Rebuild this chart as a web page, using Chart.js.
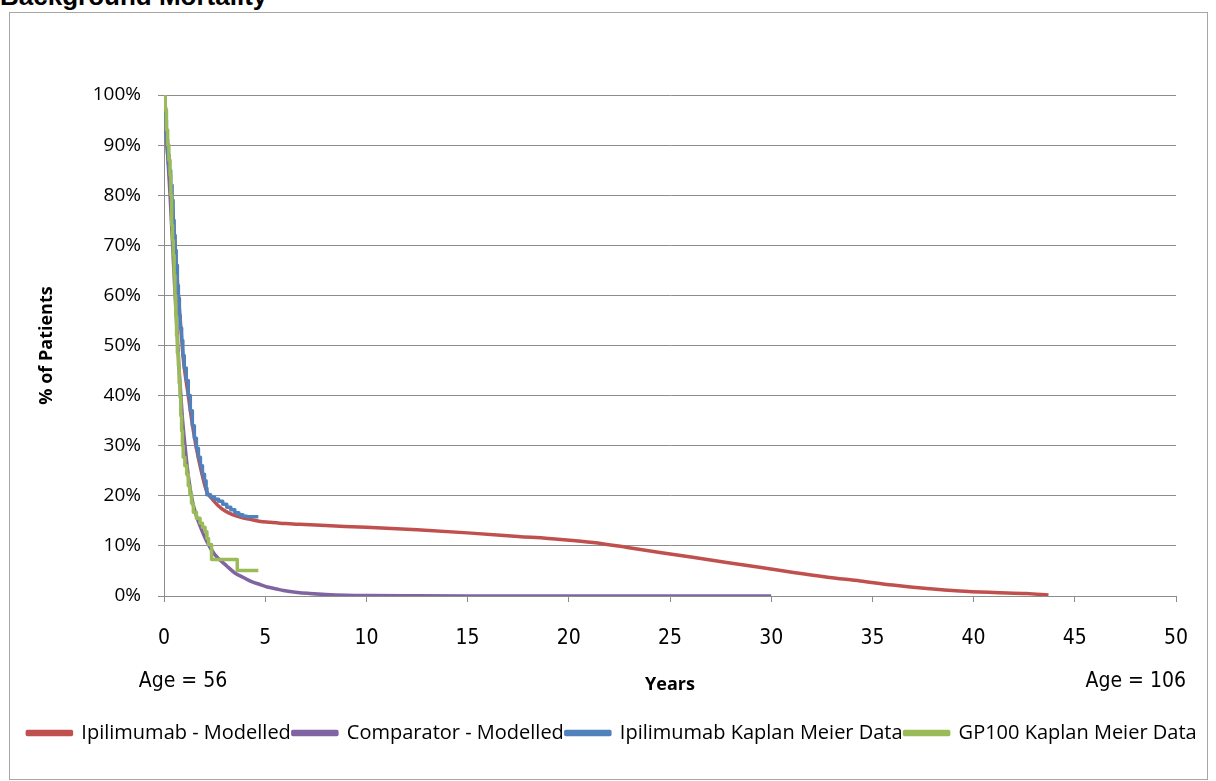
<!DOCTYPE html>
<html><head><meta charset="utf-8">
<script src="https://cdn.jsdelivr.net/npm/chart.js@4.4.1/dist/chart.umd.min.js"></script>
<style>
html,body{margin:0;padding:0;background:#fff;}
#wrap{position:relative;width:1216px;height:781px;overflow:hidden;background:#fff;}
#frame{position:absolute;left:9px;top:12px;width:1197px;height:766px;border:1px solid #a6a6a6;}
#title{position:absolute;left:0px;top:-14px;font:bold 26px "Liberation Sans",Arial,sans-serif;line-height:20px;color:#000;white-space:nowrap;}
canvas{position:absolute;left:0;top:0;}
</style></head><body>
<div id="wrap"><div id="frame"></div><div id="title">Background Mortality</div><canvas id="c" width="1216" height="781" style="width:1216px;height:781px"></canvas></div>
<script>
// ---- data (years since start, % of patients) ----
const seriesNames = ['Ipilimumab - Modelled', 'Comparator - Modelled', 'Ipilimumab Kaplan Meier Data', 'GP100 Kaplan Meier Data'];
const seriesColors = ['#C0504D', '#8064A2', '#4F81BD', '#9BBB59'];

const ipiModelYears = [0, 0.15, 0.3, 0.43, 0.54, 0.71, 0.87, 0.95, 1.2, 1.45, 1.7, 1.94, 2.1, 2.35, 2.68, 3.0, 3.42, 3.8, 4.25, 4.7, 5.24, 6, 6.7, 8, 10, 12.5, 15, 17.5, 19.6, 21.2, 22.9, 24.5, 26.2, 27.8, 29.5, 31.1, 32.7, 34.4, 36, 37.7, 39.3, 41, 42.6, 43.7];
const ipiModelPct   = [100, 90, 83, 77, 70, 60, 51.5, 47.5, 40, 33, 27.5, 23.3, 21, 19.5, 18, 17, 16.2, 15.7, 15.3, 14.9, 14.7, 14.45, 14.3, 14.05, 13.7, 13.2, 12.6, 11.9, 11.3, 10.7, 9.7, 8.7, 7.7, 6.7, 5.7, 4.7, 3.8, 3.0, 2.2, 1.5, 1.0, 0.7, 0.5, 0.2];

const compModelYears = [0, 0.15, 0.3, 0.45, 0.6, 0.75, 0.9, 1.05, 1.2, 1.4, 1.6, 1.78, 2.1, 2.5, 3.1, 3.5, 3.92, 4.3, 4.74, 5.1, 5.57, 5.9, 6.6, 7.2, 8, 9, 10, 12.5, 15, 20, 25, 30];
const compModelPct   = [100, 90, 80, 68, 56, 45, 36, 29.5, 24, 19, 16, 14, 11, 8.3, 6, 4.6, 3.7, 2.9, 2.3, 1.8, 1.4, 1.1, 0.7, 0.5, 0.3, 0.15, 0.08, 0.03, 0.01, 0, 0, 0];

const ipiKmYears = [0, 0.04, 0.08, 0.12, 0.18, 0.25, 0.33, 0.4, 0.45, 0.5, 0.55, 0.6, 0.66, 0.71, 0.76, 0.8, 0.87, 0.93, 1.0, 1.1, 1.2, 1.3, 1.4, 1.5, 1.6, 1.7, 1.8, 1.9, 2.0, 2.08, 2.12, 2.3, 2.5, 2.7, 2.9, 3.1, 3.3, 3.5, 3.7, 3.9, 4.1, 4.66];
const ipiKmPct   = [100, 97.5, 95, 91, 88, 85, 82, 79, 75, 72, 69, 66, 62, 59.5, 56, 53.5, 51, 48, 45.5, 43, 40, 37, 34, 31.5, 29.5, 27.7, 26, 24.3, 23, 21.5, 20.2, 19.7, 19.3, 18.9, 18.3, 17.7, 17.2, 16.6, 16.2, 15.9, 15.8, 15.8];

const gp100KmYears = [0, 0.06, 0.12, 0.18, 0.24, 0.3, 0.34, 0.38, 0.42, 0.46, 0.5, 0.54, 0.58, 0.62, 0.66, 0.71, 0.75, 0.79, 0.83, 0.87, 0.91, 0.95, 1.03, 1.12, 1.2, 1.28, 1.36, 1.45, 1.6, 1.78, 1.9, 2.03, 2.12, 2.2, 2.35, 3.62, 4.66];
const gp100KmPct   = [100, 97, 93, 90, 87, 84, 80, 74, 71, 68, 64, 60, 56, 52, 48.5, 46, 42.5, 39.7, 36, 33, 30, 27.7, 26, 24.3, 22, 20.3, 18.5, 16.7, 15.5, 14.5, 13.7, 12.8, 11.5, 10.3, 7.3, 5.1, 5.1];

const ageLabels = ['Age = 56', 'Age = 106'];
const xAxisTitle = 'Years';
const yAxisTitle = '% of Patients';

function pts(xs, ys) { return xs.map((x, i) => ({x: x, y: ys[i]})); }

const gridColor = '#8c8c8c';

const ageLabelPlugin = {
  id: 'ageLabels',
  afterDraw(chart) {
    const ctx = chart.ctx, xs = chart.scales.x;
    const y = chart.chartArea.bottom + 86;
    ctx.save();
    ctx.font = '21px "Liberation Sans Narrow", "DejaVu Sans Condensed", "Liberation Sans", sans-serif';
    ctx.fillStyle = '#000';
    ctx.textBaseline = 'middle';
    ctx.textAlign = 'center';
    ctx.fillText(ageLabels[0], xs.getPixelForValue(0) + 19, y);
    ctx.textAlign = 'right';
    ctx.fillText(ageLabels[1], xs.getPixelForValue(50) + 10, y);
    ctx.restore();
  }
};

const legendShift = {
  id: 'legendShift',
  afterLayout(chart) { chart.legend.left += 24; chart.legend.right += 24; }
};

new Chart(document.getElementById('c'), {
  type: 'line',
  data: {
    datasets: [
      {label: seriesNames[0], data: pts(ipiModelYears, ipiModelPct), borderColor: seriesColors[0], backgroundColor: seriesColors[0], cubicInterpolationMode: 'monotone', order: 4},
      {label: seriesNames[1], data: pts(compModelYears, compModelPct), borderColor: seriesColors[1], backgroundColor: seriesColors[1], cubicInterpolationMode: 'monotone', order: 3},
      {label: seriesNames[2], data: pts(ipiKmYears, ipiKmPct), borderColor: seriesColors[2], backgroundColor: seriesColors[2], stepped: true, order: 2},
      {label: seriesNames[3], data: pts(gp100KmYears, gp100KmPct), borderColor: seriesColors[3], backgroundColor: seriesColors[3], stepped: true, order: 1}
    ]
  },
  options: {
    responsive: false,
    animation: false,
    devicePixelRatio: 1,
    parsing: false,
    elements: {point: {radius: 0}, line: {borderWidth: 3.5, fill: false, borderCapStyle: 'butt', borderJoinStyle: 'round'}},
    layout: {padding: {left: 0, right: 40, top: 95, bottom: 28}},
    plugins: {
      tooltip: {enabled: false},
      legend: {
        position: 'bottom',
        labels: {
          sort: (a, b) => a.datasetIndex - b.datasetIndex,
          font: {family: '"Open Sans", sans-serif', size: 20},
          color: '#000',
          boxWidth: 44,
          boxHeight: 3,
          padding: 2
        }
      }
    },
    scales: {
      x: {
        type: 'linear', min: 0, max: 50,
        ticks: {stepSize: 5, color: '#000', padding: 24, font: {family: '"Liberation Sans Narrow", "DejaVu Sans Condensed", "Liberation Sans", sans-serif', size: 21}},
        grid: {drawOnChartArea: false, drawTicks: true, tickLength: 6, color: gridColor},
        border: {color: gridColor},
        title: {display: true, text: xAxisTitle, color: '#000', font: {family: '"Open Sans", sans-serif', size: 18, weight: 'bold'}, padding: {top: 0, bottom: 25}},
        afterFit(s) { s.height = 125; }
      },
      y: {
        min: 0, max: 100,
        ticks: {stepSize: 10, color: '#000', padding: 17, callback: v => v + '%', font: {family: '"Open Sans", sans-serif', size: 19}},
        grid: {color: gridColor, tickLength: 6, lineWidth: 1},
        border: {color: gridColor},
        title: {display: true, text: yAxisTitle, color: '#000', font: {family: '"Open Sans", sans-serif', size: 18, weight: 'bold'}, padding: {top: 36, bottom: 0}},
        afterFit(s) { s.width = 164; }
      }
    }
  },
  plugins: [ageLabelPlugin, legendShift]
});
</script></body></html>
